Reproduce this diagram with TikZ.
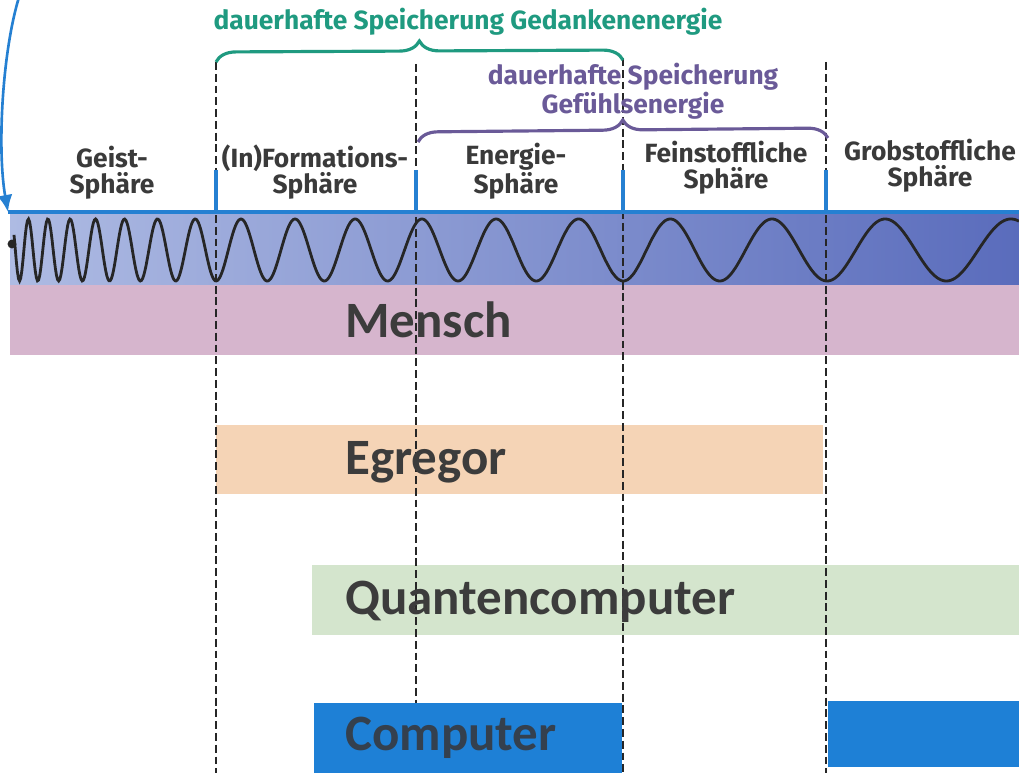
\documentclass[tikz,border=0pt]{standalone}
\usepackage{fontspec}
\setmainfont{Fira Sans}
\newfontfamily\barfont{Carlito}
\usetikzlibrary{arrows.meta,decorations.pathreplacing}
\definecolor{axisblue}{HTML}{2580D2}
\definecolor{gedanken}{HTML}{1F9A80}
\definecolor{gefuehl}{HTML}{6A5A98}
\definecolor{labelgray}{HTML}{3A3A3A}
\definecolor{bargray}{HTML}{3C3C3C}
\definecolor{compgray}{HTML}{34404E}
\definecolor{waveL}{HTML}{AEBBE3}
\definecolor{waveM}{HTML}{8493D0}
\definecolor{waveR}{HTML}{5A6CBC}
\definecolor{mensch}{HTML}{D6B5CD}
\definecolor{egregor}{HTML}{F5D4B6}
\definecolor{quanten}{HTML}{D4E5CD}
\definecolor{compblue}{HTML}{1E80D6}

\begin{document}
\begin{tikzpicture}[x=0.02cm,y=-0.02cm,
 sphere/.style={align=center,font=\bfseries\fontsize{15}{14.8}\selectfont,text=labelgray,inner sep=0pt},
 bandlabel/.style={anchor=west,font=\barfont\bfseries\fontsize{29}{30}\selectfont,text=bargray,inner sep=0pt},
 divider/.style={line width=0.8pt,dash pattern=on 4.5pt off 2.2pt,draw=black!85},
 spheretick/.style={line width=2pt,draw=axisblue},
 arr/.style={-{Latex[length=3.4mm,width=3mm]},line width=1.5pt,draw=axisblue},
 bracemark/.style={decorate,decoration={brace,amplitude=0.4cm},line width=1.8pt}]
\useasboundingbox (0,0) rectangle (1019,773);
% colour bands
\shade[left color=waveL,middle color=waveM,right color=waveR] (10,212) rectangle (1019,285);
\fill[mensch] (10,285) rectangle (1019,355);
\fill[egregor] (216,425) rectangle (823,494);
\fill[quanten] (312,565) rectangle (1019,635);
\fill[compblue] (314,703) rectangle (622,773);
\fill[compblue] (828,701) rectangle (1019,767);
% dashed borders between the spheres
\coordinate (d1t) at (216,62);  \coordinate (d1b) at (216,773);
\coordinate (d2t) at (416,64);  \coordinate (d2b) at (416,703);
\coordinate (d3t) at (623,58);  \coordinate (d3b) at (623,773);
\coordinate (d4t) at (826,62);  \coordinate (d4b) at (826,773);
\foreach \d in {d1,d2,d3,d4}
  \draw[divider] (\d t) -- (\d b);
% wave
\draw[line width=1.6pt,black!85] plot[domain=14:1019,samples=900]
  (\x,{250+31*cos(360*((\x<216) ? 7.6*ln((110.4+\x)/326.4) : 9.479*ln((245+\x)/461)))});
\node[circle,fill=black!85,inner sep=1.8pt] (start) at (12,244) {};
% axis and sphere ticks
\coordinate (axl) at (8,212); \coordinate (axr) at (1019,212);
\draw[line width=2.3pt,axisblue] (axl) -- (axr);
\foreach \x in {216,416,623,826}
  \draw[spheretick] (\x,170) -- (\x,212);
\coordinate (loop) at (20,-6);
\draw[arr] (loop) .. controls (2,50) and (-3,150) .. (axl);
% sphere labels
\node[sphere] (geist) at (112,173) {Geist-\\Sphäre};
\node[sphere] (form) at (315,172) {(In)Formations-\\Sphäre};
\node[sphere] (energie) at (516,171) {Energie-\\Sphäre};
\node[sphere] (fein) at (726,168) {Feinstoffliche\\Sphäre};
\node[sphere] (grob) at (930,166) {Grobstoffliche\\Sphäre};
% storage braces
\draw[bracemark,gedanken] (216,62) -- (623,60);
\node[sphere,text=gedanken] (gedtxt) at (468,22) {dauerhafte Speicherung Gedankenenergie};
\draw[bracemark,gefuehl] (418,142) -- (828,138);
\node[sphere,text=gefuehl] (geftxt) at (633,91) {dauerhafte Speicherung\\Gefühlsenergie};
% band labels
\node[bandlabel] (mensch) at (345,320) {Mensch};
\node[bandlabel] (egreg) at (345,462) {Egregor};
\node[bandlabel] (quant) at (345,602) {Quantencomputer};
\node[bandlabel,text=compgray] (comp) at (345,738) {Computer};
\end{tikzpicture}
\end{document}
